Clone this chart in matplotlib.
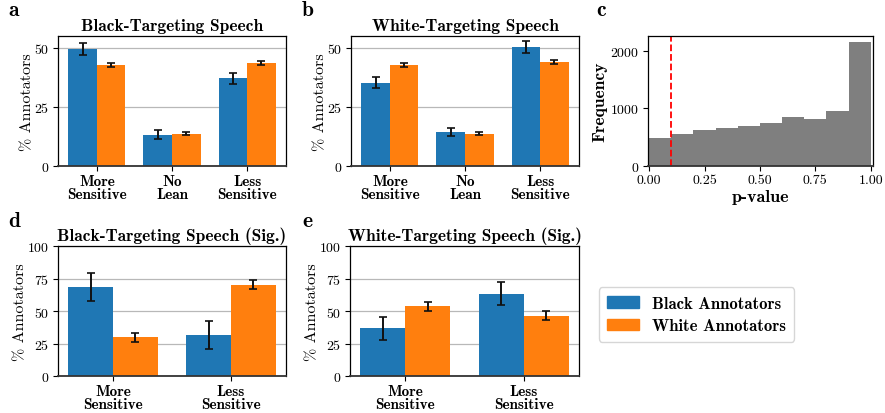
import numpy as np
import matplotlib
matplotlib.use("Agg")
import matplotlib.pyplot as plt
from matplotlib.patches import Patch

# Computer Modern fonts bundled with matplotlib
plt.rcParams["font.family"] = "cmr10"
plt.rcParams["axes.formatter.use_mathtext"] = True
plt.rcParams["mathtext.fontset"] = "cm"
BOLD = "cmb10"

BLUE = "#1f77b4"
ORANGE = "#ff7f0e"

# Lean of annotators, all posts
lean_cats = ["More\nSensitive", "No\nLean", "Less\nSensitive"]
black_tgt_black = [49.6, 13.3, 37.1]
black_tgt_black_err = [2.5, 1.8, 2.3]
black_tgt_white = [42.7, 13.7, 43.6]
black_tgt_white_err = [0.85, 0.6, 0.85]

white_tgt_black = [35.2, 14.5, 50.3]
white_tgt_black_err = [2.3, 1.6, 2.4]
white_tgt_white = [42.6, 13.6, 43.8]
white_tgt_white_err = [0.85, 0.6, 0.85]

# p-value histogram
pval_edges = [0.0, 0.1, 0.2, 0.3, 0.4, 0.5, 0.6, 0.7, 0.8, 0.9, 1.0]
pval_counts = [490, 548, 628, 663, 697, 749, 853, 818, 957, 2150]
pval_threshold = 0.1

# Significant posts only
sig_cats = ["More\nSensitive", "Less\nSensitive"]
black_sig_black = [68.6, 31.4]
black_sig_black_err = [10.7, 10.7]
black_sig_white = [29.7, 70.3]
black_sig_white_err = [3.6, 3.6]

white_sig_black = [36.6, 63.4]
white_sig_black_err = [8.9, 8.9]
white_sig_white = [53.5, 46.5]
white_sig_white_err = [3.4, 3.4]

W, H = 885, 414
fig = plt.figure(figsize=(W / 100, H / 100), dpi=100)


def box(x0, y0, x1, y1):
    return [x0 / W, 1 - y1 / H, (x1 - x0) / W, (y1 - y0) / H]


def style_axes(ax):
    ax.tick_params(labelsize=10, length=3.5, width=0.8, pad=2.5)
    for s in ax.spines.values():
        s.set_linewidth(0.9)
    ax.spines["bottom"].set_color("#333333")
    ax.spines["bottom"].set_linewidth(1.3)


def grouped(ax, cats, b, be, w, we, title, yticks):
    style_axes(ax)
    x = np.arange(len(cats))
    bw = 0.38
    ax.set_axisbelow(True)
    ax.yaxis.grid(True, color="#b8b8b8", linewidth=0.9)
    ekw = dict(ecolor="#111111", elinewidth=1.4, capsize=3.2, capthick=1.2)
    ax.bar(x - bw / 2, b, bw, yerr=be, color=BLUE, error_kw=ekw)
    ax.bar(x + bw / 2, w, bw, yerr=we, color=ORANGE, error_kw=ekw)
    ax.set_xticks(x)
    ax.set_xticklabels(cats, fontfamily=BOLD, fontsize=11, linespacing=0.92)
    ax.set_yticks(yticks)
    ax.set_ylim(0, yticks[-1] * 1.1 if len(yticks) == 3 else yticks[-1])
    ax.set_ylabel("% Annotators", fontsize=11.5, labelpad=0)
    ax.set_title(title, fontfamily=BOLD, fontsize=12.5, pad=4)


ax_a = fig.add_axes(box(58, 37, 286, 167))
grouped(ax_a, lean_cats, black_tgt_black, black_tgt_black_err,
        black_tgt_white, black_tgt_white_err, "Black-Targeting Speech", [0, 25, 50])

ax_b = fig.add_axes(box(351, 37, 579, 167))
grouped(ax_b, lean_cats, white_tgt_black, white_tgt_black_err,
        white_tgt_white, white_tgt_white_err, "White-Targeting Speech", [0, 25, 50])

ax_c = fig.add_axes(box(648, 37, 873, 167))
style_axes(ax_c)
ax_c.bar(pval_edges[:-1], pval_counts, width=np.diff(pval_edges), align="edge",
         color="#7f7f7f", linewidth=0)
ax_c.axvline(pval_threshold, color="red", linestyle="--", linewidth=1.3)
ax_c.set_xlim(-0.005, 1.01)
ax_c.set_xticks([0, 0.25, 0.5, 0.75, 1.0])
ax_c.set_xticklabels(["0.00", "0.25", "0.50", "0.75", "1.00"])
ax_c.set_yticks([0, 1000, 2000])
ax_c.set_xlabel("p-value", fontfamily=BOLD, fontsize=13, labelpad=2)
ax_c.set_ylabel("Frequency", fontfamily=BOLD, fontsize=12.5, labelpad=2)

ax_d = fig.add_axes(box(58, 247, 286, 377))
grouped(ax_d, sig_cats, black_sig_black, black_sig_black_err,
        black_sig_white, black_sig_white_err, "Black-Targeting Speech (Sig.)",
        [0, 25, 50, 75, 100])

ax_e = fig.add_axes(box(350, 247, 579, 377))
grouped(ax_e, sig_cats, white_sig_black, white_sig_black_err,
        white_sig_white, white_sig_white_err, "White-Targeting Speech (Sig.)",
        [0, 25, 50, 75, 100])

# panel letters
for letter, px, py in [("a", 8, 16), ("b", 302, 16), ("c", 596, 16),
                       ("d", 8, 227), ("e", 302, 227)]:
    fig.text(px / W, 1 - py / H, letter, fontfamily=BOLD, fontsize=15.5,
             ha="left", va="baseline")

handles = [Patch(color=BLUE, label="Black Annotators"),
           Patch(color=ORANGE, label="White Annotators")]
leg = fig.legend(handles=handles, loc="center",
                 bbox_to_anchor=((599 + 794) / 2 / W, 1 - (287 + 344) / 2 / H),
                 prop={"family": BOLD, "size": 12}, frameon=True,
                 handlelength=1.9, handleheight=0.7, handletextpad=0.8,
                 labelspacing=0.45, borderpad=0.5)
leg.get_frame().set_edgecolor("#cccccc")

fig.savefig("out.png", dpi=100)
